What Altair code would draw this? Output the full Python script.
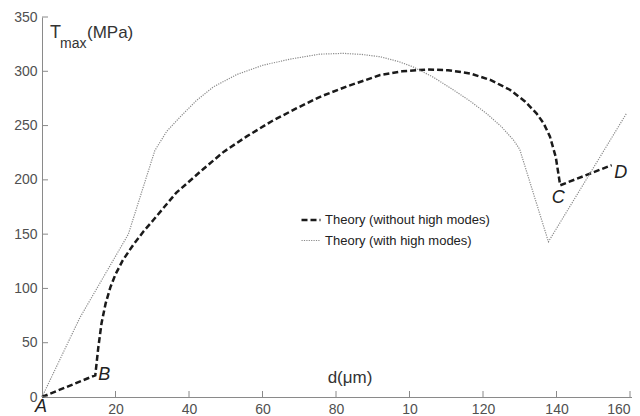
import altair as alt
import pandas as pd

# ---------------- data ----------------
series_names = ["Theory (without high modes)", "Theory (with high modes)"]

dashed_x = [0, 14.5, 15.3, 16.2, 17.3, 18.6, 20.0, 22.0, 24.8, 27.5, 30.3, 36.5, 43.9, 49.5, 55.7, 62.5, 69.3, 76.0, 82.9, 92.0, 98.0, 104.7, 110.5, 116.5, 122.0, 127.3, 131.5, 134.6, 136.5, 138.2, 139.8, 141.0, 155.0]
dashed_y = [0, 20, 45, 68, 86, 101, 113, 126, 140, 152, 163, 188, 210, 226, 240, 254, 266, 277, 286, 296.5, 300, 301.6, 301, 298, 292, 283, 272, 261, 252, 240, 221, 195, 213.5]

dotted_x = [0, 10.3, 23.5, 30.7, 34.0, 37.6, 42.0, 46.6, 53.0, 60.2, 68.0, 75.6, 82.0, 87.0, 92.0, 97.0, 101.0, 106.5, 112.0, 116.5, 121.0, 125.0, 128.3, 130.0, 137.8, 159.0]
dotted_y = [0, 73, 150, 227, 245, 258, 273, 285.6, 297, 305.7, 311.5, 315.8, 316.5, 315.5, 313.4, 309, 304, 294.5, 282.7, 272.5, 261, 249, 236.6, 228, 143, 261]

x_ticks = [0, 20, 40, 60, 80, 100, 120, 140, 160]
y_ticks = [0, 50, 100, 150, 200, 250, 300, 350]

point_labels = ["A", "B", "C", "D"]
point_x = [0, 14.5, 141.0, 155.0]
point_y = [0, 20, 195, 213.5]

y_title_parts = ["T", "max", "(MPa)"]
x_title = "d(μm)"

# ---------------- build table ----------------
rows = []
for i, (x, y) in enumerate(zip(dashed_x, dashed_y)):
    rows.append({"d": x, "t": y, "series": series_names[0], "order": i})
for i, (x, y) in enumerate(zip(dotted_x, dotted_y)):
    rows.append({"d": x, "t": y, "series": series_names[1], "order": i})
df = pd.DataFrame(rows)

W, H = 590, 380
FONT = "Liberation Sans"
xs = alt.Scale(domain=[0, 160.54], nice=False, zero=False)
ys = alt.Scale(domain=[0, 350], nice=False)

leg = alt.Legend(
    orient="none", legendX=258, legendY=192, title=None,
    symbolType="stroke", symbolSize=361, labelFontSize=13, labelLimit=400,
    labelColor="#222222", labelFont=FONT, rowPadding=3, labelOffset=3,
    padding=0,
)

lines = alt.Chart(df).mark_line(clip=False).encode(
    x=alt.X("d:Q", scale=xs, axis=alt.Axis(
        values=x_ticks, title=None, ticks=False, grid=False,
        labelExpr="datum.value == 0 ? '' : (datum.value == 100 ? '10' : datum.label)",
        labelColor="#505050", labelFontSize=14, labelFont=FONT, labelPadding=5,
        labelFlush=10, labelOverlap=False,
        domainColor="#8a8a8a")),
    y=alt.Y("t:Q", scale=ys, axis=alt.Axis(
        values=y_ticks, title=None, ticks=False, grid=False,
        labelColor="#505050", labelFontSize=14, labelFont=FONT, labelPadding=5,
        domainColor="#8a8a8a")),
    order="order:Q",
    color=alt.Color("series:N", scale=alt.Scale(domain=series_names, range=["#1a1a1a", "#8a8a8a"]), legend=leg),
    strokeDash=alt.StrokeDash("series:N", scale=alt.Scale(domain=series_names, range=[[6, 3], [1.2, 1.2]]), legend=leg),
    strokeWidth=alt.StrokeWidth("series:N", scale=alt.Scale(domain=series_names, range=[2.5, 1.2]), legend=leg),
)

xt = alt.Chart(pd.DataFrame({"v": x_ticks[1:]})).mark_rule(color="#8a8a8a").encode(
    x=alt.X("v:Q", scale=xs), y=alt.value(H), y2=alt.value(H - 6))
yt = alt.Chart(pd.DataFrame({"v": y_ticks})).mark_rule(color="#8a8a8a").encode(
    y=alt.Y("v:Q", scale=ys), x=alt.value(0), x2=alt.value(6))

pts = pd.DataFrame({"lab": point_labels, "d": point_x, "t": point_y})
offsets = {"A": (-1, 10), "B": (9, 0), "C": (-2, 13), "D": (9, 8)}
letter_layers = []
for lab in point_labels:
    dx, dy = offsets[lab]
    letter_layers.append(
        alt.Chart(pts[pts["lab"] == lab]).mark_text(
            font=FONT, fontSize=18, fontStyle="italic", color="#222222",
            dx=dx, dy=dy, align="center", baseline="middle", clip=False
        ).encode(x=alt.X("d:Q", scale=xs), y=alt.Y("t:Q", scale=ys), text="lab:N")
    )

tdf = pd.DataFrame({"s": y_title_parts})
t_T = alt.Chart(tdf.iloc[[0]]).mark_text(font=FONT, fontSize=18, color="#333333", align="left", baseline="alphabetic").encode(
    text="s:N", x=alt.value(8), y=alt.value(21))
t_max = alt.Chart(tdf.iloc[[1]]).mark_text(font=FONT, fontSize=14, color="#333333", align="left", baseline="alphabetic").encode(
    text="s:N", x=alt.value(18), y=alt.value(31))
t_mpa = alt.Chart(tdf.iloc[[2]]).mark_text(font=FONT, fontSize=17, color="#333333", align="left", baseline="alphabetic").encode(
    text="s:N", x=alt.value(45), y=alt.value(21))
t_x = alt.Chart(pd.DataFrame({"s": [x_title]})).mark_text(font=FONT, fontSize=17, color="#333333", align="center", baseline="alphabetic").encode(
    text="s:N", x=alt.value(308), y=alt.value(366))

chart = alt.layer(lines, xt, yt, *letter_layers, t_T, t_max, t_mpa, t_x).properties(
    width=W, height=H,
    padding={"left": 34, "top": 9, "right": 0, "bottom": 19},
    autosize=alt.AutoSizeParams(type="none"),
).configure_view(stroke=None)

chart.save("out.html", embed_options={"renderer": "svg", "actions": False})
